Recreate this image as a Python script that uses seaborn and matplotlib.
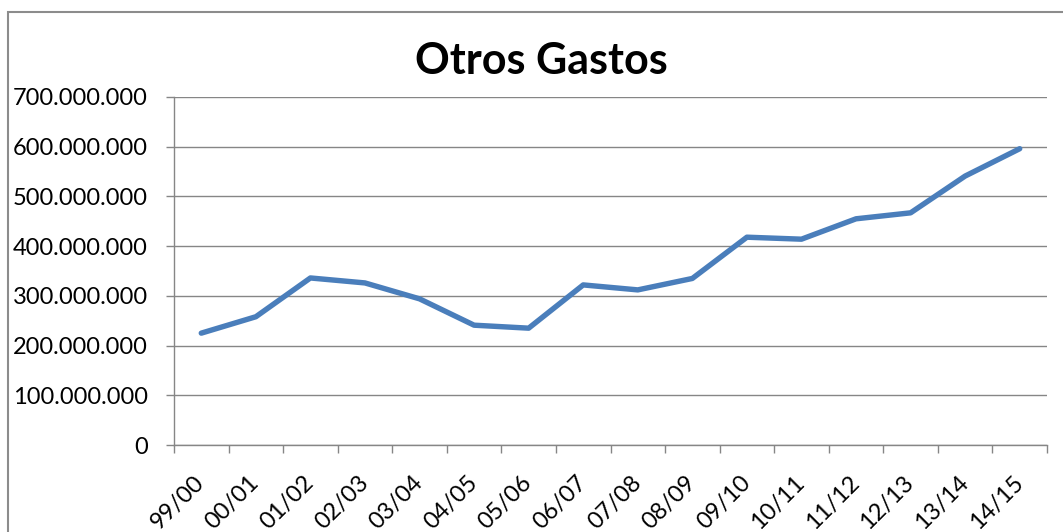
import matplotlib
matplotlib.use("Agg")
import matplotlib.pyplot as plt
import matplotlib.ticker as mticker
from matplotlib.patches import Rectangle
import seaborn as sns
import pandas as pd

categories = ["99/00", "00/01", "01/02", "02/03", "03/04", "04/05", "05/06", "06/07",
              "07/08", "08/09", "09/10", "10/11", "11/12", "12/13", "13/14", "14/15"]
values = [225e6, 258e6, 336e6, 326e6, 294e6, 241e6, 235e6, 322e6,
          312e6, 335e6, 418e6, 414e6, 455e6, 467e6, 541e6, 596e6]
title = "Otros Gastos"
y_ticks = [0, 100e6, 200e6, 300e6, 400e6, 500e6, 600e6, 700e6]

sns.set_theme(style="white")
plt.rcParams["font.family"] = ["Lato", "DejaVu Sans"]

W, H = 1063, 532
fig = plt.figure(figsize=(W / 100, H / 100), dpi=100)
ax = fig.add_axes([174 / W, 1 - 445 / H, (1047 - 174) / W, (445 - 97) / H])

df = pd.DataFrame({"cat": categories, "val": values})
sns.lineplot(data=df, x="cat", y="val", ax=ax, color="#4A7EBB", linewidth=3.9,
             solid_capstyle="round", solid_joinstyle="round", sort=False)

grid_c = "#868686"
ax.set_ylim(0, 700e6)
ax.set_xlim(-0.5, len(categories) - 0.5)
ax.set_yticks(y_ticks)
ax.yaxis.set_major_formatter(mticker.FuncFormatter(
    lambda v, p: "0" if v == 0 else f"{int(round(v)):,}".replace(",", ".")))
ax.grid(axis="y", color=grid_c, linewidth=1.0)
ax.set_axisbelow(True)

# category boundaries as major ticks, labels on minor ticks at centers
ax.set_xticks([i - 0.5 for i in range(len(categories) + 1)])
ax.set_xticklabels([])
ax.set_xticks(range(len(categories)), minor=True)
ax.set_xticklabels(categories, minor=True, rotation=45, ha="right",
                   va="center", rotation_mode="anchor", fontsize=17)
ax.tick_params(axis="x", which="major", length=6, width=1, color=grid_c, direction="out", bottom=True)
ax.tick_params(axis="x", which="minor", length=0, pad=25, bottom=True)
ax.tick_params(axis="y", which="major", length=6, width=1, color=grid_c, direction="out",
               left=True, labelsize=17, pad=13)

for s in ["top", "right"]:
    ax.spines[s].set_visible(False)
for s in ["left", "bottom"]:
    ax.spines[s].set_color(grid_c)
    ax.spines[s].set_linewidth(1.0)
ax.set_xlabel("")
ax.set_ylabel("")
for lbl in ax.get_yticklabels() + ax.get_xticklabels(minor=True):
    lbl.set_color("black")

fig.text(541 / W, 1 - 74 / H, title, ha="center", va="baseline",
         fontsize=31, fontweight="bold", color="black")

fig.patches.append(Rectangle((8 / W, -0.1), 1.2, 1.1 - 12 / H, transform=fig.transFigure,
                             fill=False, edgecolor="#8C8C8C", linewidth=1.5))

fig.savefig("out.png", dpi=100)
